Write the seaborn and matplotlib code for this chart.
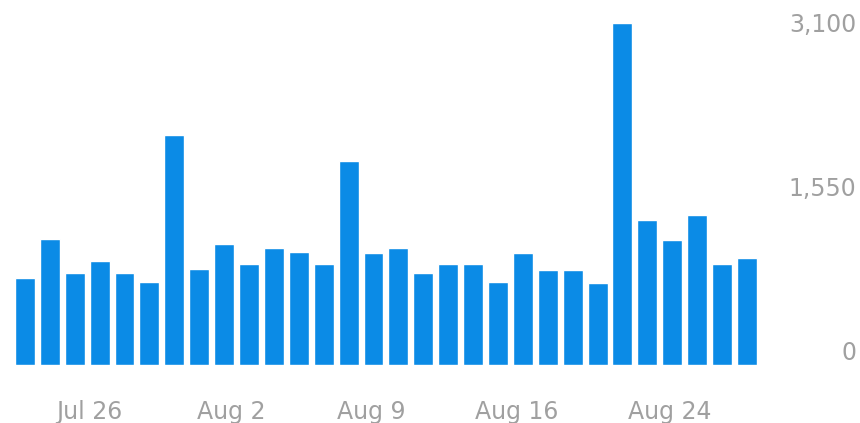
import pandas as pd
import numpy as np
import matplotlib.pyplot as plt
import seaborn as sns

# daily values
day = list(range(30))
value = [822, 1191, 869, 983, 869, 784, 2174, 907, 1143, 954,
         1106, 1068, 954, 1928, 1058, 1106, 869, 954, 954, 784,
         1058, 898, 898, 775, 3232, 1370, 1181, 1418, 954, 1011]

tick_pos = [2.6, 8.3, 13.9, 19.75, 25.9]
tick_labels = ['Jul 26', 'Aug 2', 'Aug 9', 'Aug 16', 'Aug 24']
y_ticks = [0, 1550, 3100]
y_labels = ['0', '1,550', '3,100']

df = pd.DataFrame({'day': day, 'value': value})

sns.set_style('white')
plt.rcParams['font.family'] = ['DejaVu Sans']

fig = plt.figure(figsize=(8.6, 4.23), dpi=100)
ax = fig.add_axes([0.0145, 0.137, 0.8685, 0.825])
sns.barplot(data=df, x='day', y='value', color='#0b8be6', saturation=1,
            width=0.8, ax=ax)

ax.set_ylim(0, 3300)
ax.set_xlim(-0.5, 29.5)
ax.set_xticks(tick_pos)
ax.set_xticklabels(tick_labels)
ax.yaxis.tick_right()
ax.set_yticks(y_ticks)
ax.set_yticklabels(y_labels, ha='right', va='bottom')
ax.tick_params(axis='x', length=0, pad=25, labelsize=17, labelcolor='#a0a0a0')
ax.tick_params(axis='y', length=0, pad=70, labelsize=17, labelcolor='#a0a0a0')
ax.set_xlabel('')
ax.set_ylabel('')
sns.despine(ax=ax, left=True, bottom=True)

fig.savefig('out.png', dpi=100, facecolor='white')
plt.close()
